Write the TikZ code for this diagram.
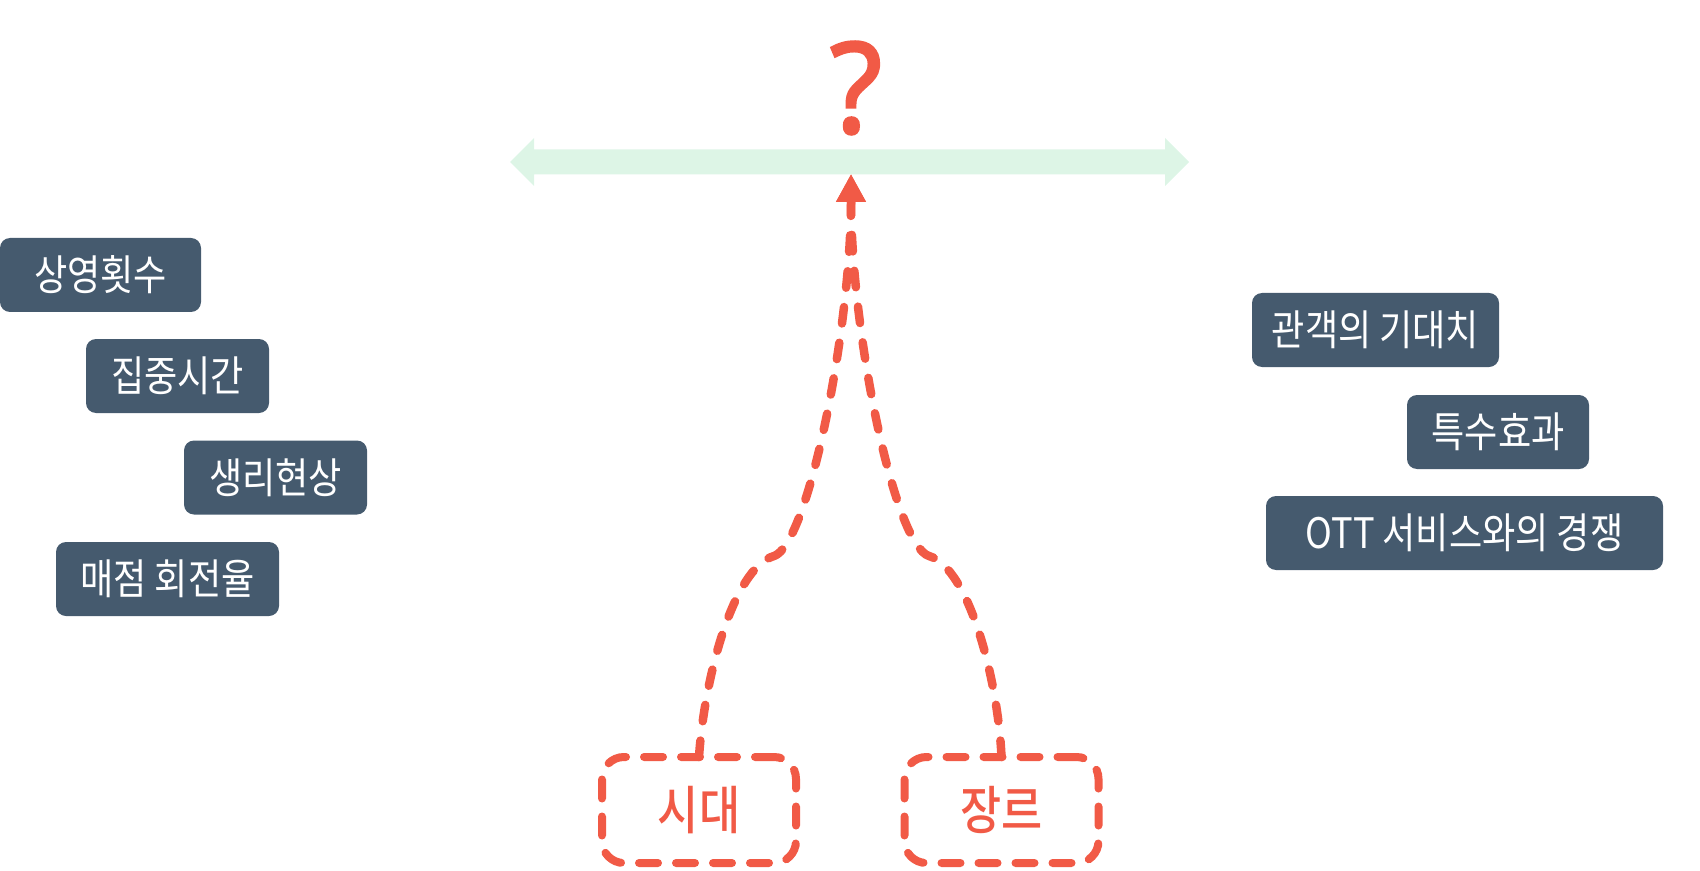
\documentclass[tikz,border=0pt]{standalone}
\usepackage{fontspec}
\setmainfont{Noto Sans CJK KR}
\newfontfamily\krn[FakeStretch=0.86]{Noto Sans CJK KR}
\IfFontExistsTF{Noto Sans CJK KR Medium}
  {\newfontfamily\krm[FakeStretch=0.86]{Noto Sans CJK KR Medium}}
  {\newfontfamily\krm[FakeStretch=0.86]{Noto Sans CJK KR}}
\newfontfamily\qfont[FakeStretch=0.95,FakeBold=2]{Noto Sans}
\usetikzlibrary{arrows.meta}
\definecolor{slate}{HTML}{455A6E}
\definecolor{coral}{HTML}{F15A46}
\definecolor{mint}{HTML}{DDF5E6}
\begin{document}
\begin{tikzpicture}[x=0.5pt,y=-0.5pt,
  dbox/.style={fill=slate, rounded corners=5pt, text=white, font=\krn\fontsize{21pt}{24pt}\selectfont, inner sep=0pt, outer sep=0pt, minimum height=37pt},
  rbox/.style={draw=coral, line width=4pt, dash pattern=on 9.5pt off 9pt, line cap=round, rounded corners=11pt, minimum width=97pt, minimum height=53pt, text=coral, font=\krm\fontsize{26pt}{30pt}\selectfont, inner sep=0pt, outer sep=0pt},
  link/.style={draw=coral, line width=4.25pt, line cap=round, dash pattern=on 8.25pt off 9.75pt, -{Triangle[width=14pt,length=14pt]}}
]
\useasboundingbox (0,0) rectangle (1700,871);

% green double arrow
\fill[mint] (510,162) -- (534,138) -- (534,149.5) -- (1165,149.5) -- (1165,138) -- (1189,162)
  -- (1165,186) -- (1165,174.5) -- (534,174.5) -- (534,186) -- cycle;

% question mark
\node[text=coral, font=\qfont\fontsize{63pt}{63pt}\selectfont, inner sep=0pt] (q) at (856,88) {?};

% left boxes
\node[dbox, minimum width=100.5pt] (b1) at (100.5,275) {상영횟수};
\node[dbox, minimum width=91.5pt] (b2) at (177.5,376) {집중시간};
\node[dbox, minimum width=91.5pt] (b3) at (275.5,477.5) {생리현상};
\node[dbox, minimum width=111.5pt] (b4) at (167.5,579) {매점 회전율};

% right boxes
\node[dbox, minimum width=123.5pt] (b5) at (1375.5,330) {관객의 기대치};
\node[dbox, minimum width=91pt] (b6) at (1498,432) {특수효과};
\node[dbox, minimum width=198.5pt] (b7) at (1464.5,533) {OTT 서비스와의 경쟁};

% red boxes
\node[rbox] (sd) at (699,810) {시대};
\node[rbox] (jr) at (1001.5,810) {장르};

\coordinate (tip) at (851,174);
\coordinate (kl) at (774,556);
\coordinate (kr) at (929,556);

\draw[link] (sd.north) .. controls (704,680) and (733,568) .. (kl)
  .. controls (808,545) and (851,330) .. (tip);
\draw[link] (jr.north) .. controls (998,680) and (969,568) .. (kr)
  .. controls (894,545) and (851,330) .. (tip);
\end{tikzpicture}
\end{document}
